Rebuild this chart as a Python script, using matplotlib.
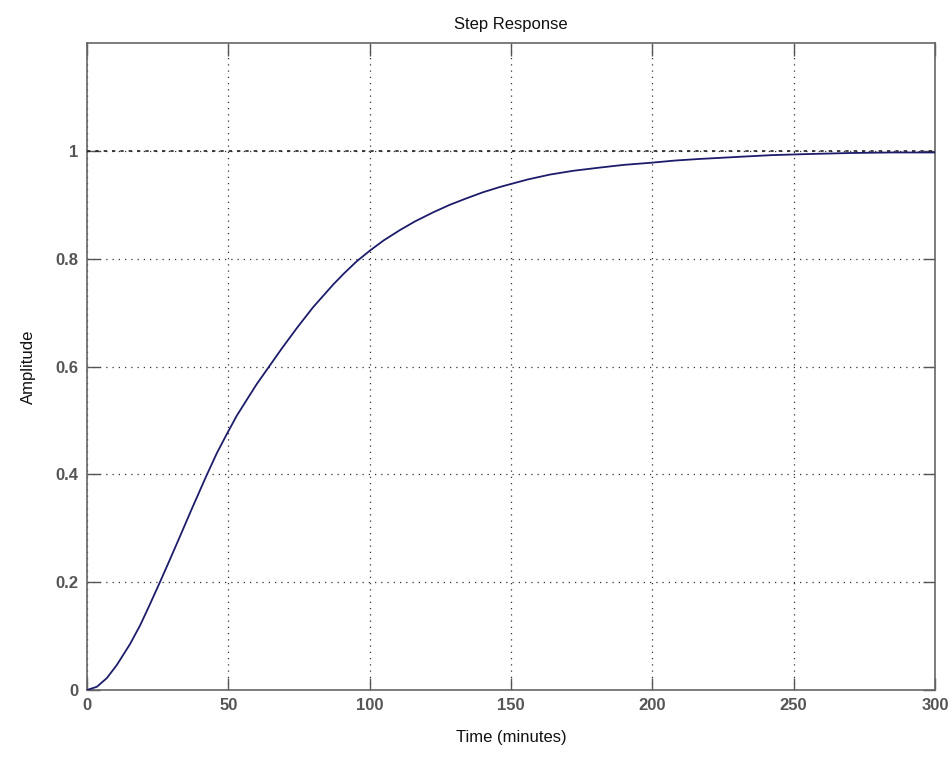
import matplotlib
matplotlib.use("Agg")
import matplotlib.pyplot as plt

# Step response (time in minutes, amplitude)
time_min = [0, 3.5, 7, 10.5, 15.2, 18.8, 22, 25.8, 29, 32.9, 37, 42.3, 46, 49.4,
            52.9, 56.5, 60, 64.7, 69, 74.2, 80, 87.1, 91, 95.4, 100.1, 105,
            110.7, 116, 122.5, 128.4, 134.3, 140, 146.1, 149.6, 156, 163.8,
            172, 181.5, 190, 199.7, 208, 216.8, 224, 231, 242, 254.6, 270,
            285, 300]
amplitude = [0, 0.006, 0.022, 0.046, 0.085, 0.12, 0.156, 0.2, 0.238, 0.285,
             0.335, 0.398, 0.44, 0.474, 0.508, 0.538, 0.567, 0.602, 0.634,
             0.671, 0.71, 0.752, 0.773, 0.795, 0.815, 0.834, 0.853, 0.869,
             0.886, 0.9, 0.912, 0.923, 0.933, 0.938, 0.947, 0.956, 0.963,
             0.969, 0.974, 0.978, 0.982, 0.985, 0.987, 0.989, 0.992, 0.994,
             0.996, 0.997, 0.997]

x_ticks = [0, 50, 100, 150, 200, 250, 300]
y_ticks = [0, 0.2, 0.4, 0.6, 0.8, 1.0]
y_tick_labels = ["0", "0.2", "0.4", "0.6", "0.8", "1"]
steady_state = 1.0

plt.rcParams["font.family"] = ["Liberation Sans", "DejaVu Sans"]

fig = plt.figure(figsize=(9.53, 7.6), dpi=100, facecolor="white")
ax = fig.add_axes([0.0913, 0.0921, 0.8897, 0.8513])

ax.plot(time_min, amplitude, color="#1c1c6b", lw=1.3, zorder=4)
ax.axhline(steady_state, color="#222222", lw=1.2, ls=(0, (2, 3)), zorder=3)

ax.set_xlim(0, 300)
ax.set_ylim(0, 1.2)
ax.set_xticks(x_ticks)
ax.set_yticks(y_ticks)
ax.set_yticklabels(y_tick_labels)

ax.grid(True, color="#333333", lw=0.9, ls=(0, (1, 4)))
ax.tick_params(direction="in", length=9, width=1, color="#555555",
               top=True, right=True, labelsize=12, labelcolor="#555555", pad=6)
for lab in ax.get_xticklabels() + ax.get_yticklabels():
    lab.set_fontweight("bold")
for spine in ax.spines.values():
    spine.set_edgecolor("#666666")
    spine.set_linewidth(1.2)

ax.set_title("Step Response", fontsize=12, color="#111111", pad=10)
ax.set_xlabel("Time (minutes)", fontsize=12, color="#111111", labelpad=12)
ax.set_ylabel("Amplitude", fontsize=12, color="#111111", labelpad=14)

fig.savefig("out.png", dpi=100, facecolor="white")
